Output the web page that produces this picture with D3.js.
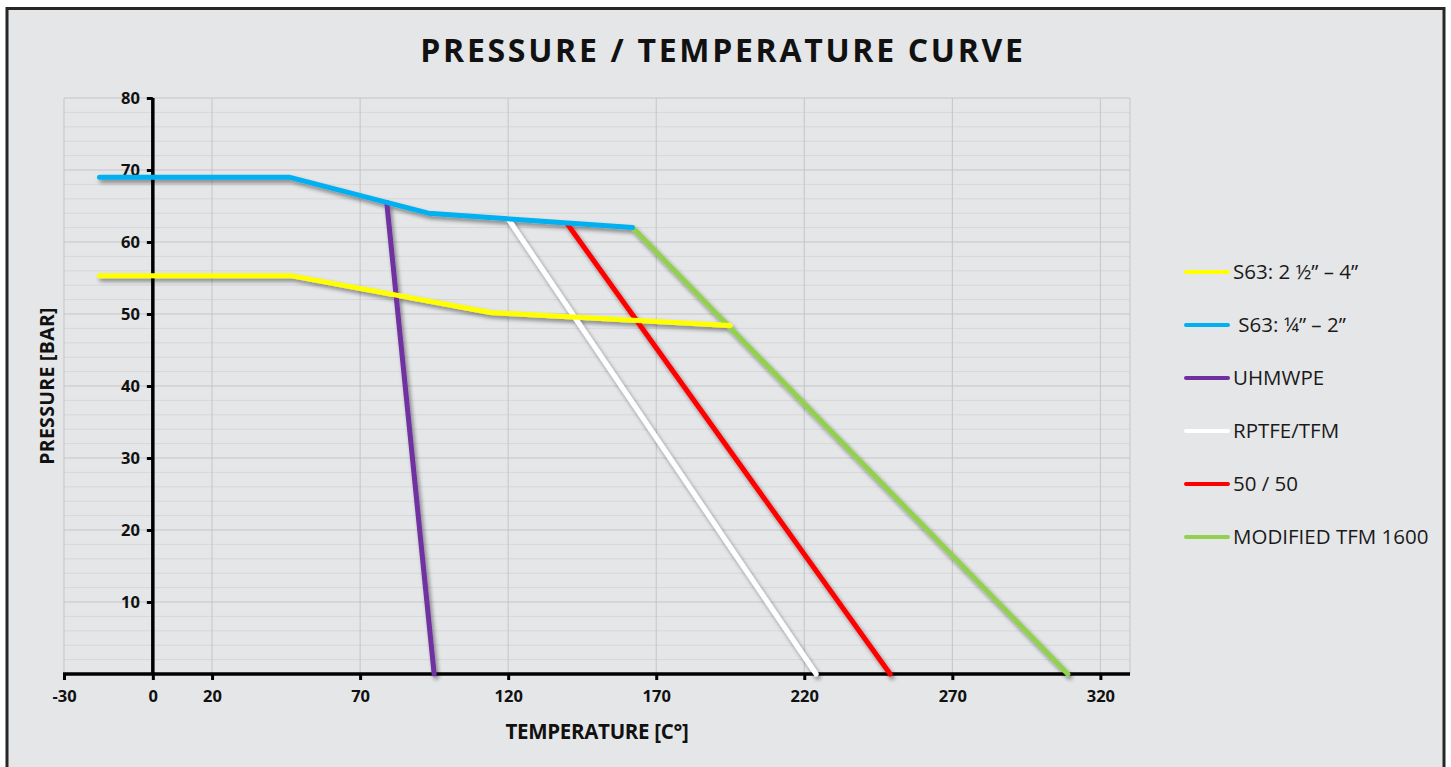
<!DOCTYPE html>
<html>
<head>
<meta charset="utf-8">
<script src="https://cdn.jsdelivr.net/npm/d3@7"></script>
<style>
html,body{margin:0;padding:0;background:#fff;}
svg{display:block;}
</style>
</head>
<body>
<svg id="chart" width="1451" height="767"></svg>
<script>
// ---- data ----
const seriesNames = ["S63: 2 \u00BD\u201D \u2013 4\u201D", " S63: \u00BC\u201D \u2013 2\u201D", "UHMWPE", "RPTFE/TFM", "50 / 50", "MODIFIED TFM 1600"];
const seriesColors = ["#ffff00", "#00b0f0", "#7030a0", "#ffffff", "#ff0000", "#92d050"];
const s63LargeTemp = [-18, 47, 114, 195];
const s63LargePres = [55.3, 55.3, 50.2, 48.4];
const s63SmallTemp = [-18, 46, 93, 162];
const s63SmallPres = [69, 69, 64, 62];
const uhmwpeTemp = [79, 95];
const uhmwpePres = [65.5, 0];
const rptfeTemp = [120, 224];
const rptfePres = [63.2, 0];
const fiftyTemp = [140, 249];
const fiftyPres = [62.5, 0];
const tfm1600Temp = [162, 309];
const tfm1600Pres = [62, 0];
const xTicks = [-30, 0, 20, 70, 120, 170, 220, 270, 320];
const yTicks = [10, 20, 30, 40, 50, 60, 70, 80];
const yMinorTicks = d3.range(2, 80, 2);

const seriesTemps = [s63LargeTemp, s63SmallTemp, uhmwpeTemp, rptfeTemp, fiftyTemp, tfm1600Temp];
const seriesPres = [s63LargePres, s63SmallPres, uhmwpePres, rptfePres, fiftyPres, tfm1600Pres];
const drawOrder = [2, 3, 4, 5, 0, 1];

// ---- layout ----
const svg = d3.select("#chart");
const W = 1451, H = 767;
const plot = {left: 64, right: 1130, top: 98, bottom: 674};

svg.append("rect").attr("x", 0).attr("y", 0).attr("width", W).attr("height", H).attr("fill", "#ffffff");
svg.append("rect").attr("x", 7).attr("y", 8.5).attr("width", 1437).attr("height", 770)
  .attr("fill", "#e5e6e8").attr("stroke", "#262626").attr("stroke-width", 3);

const defs = svg.append("defs");
const f = defs.append("filter").attr("id", "shadow").attr("x", "-10%").attr("y", "-10%").attr("width", "130%").attr("height", "130%");
f.append("feGaussianBlur").attr("in", "SourceAlpha").attr("stdDeviation", 2.2).attr("result", "b");
f.append("feOffset").attr("in", "b").attr("dx", 2).attr("dy", 3).attr("result", "o");
f.append("feComponentTransfer").attr("in", "o").attr("result", "o2")
  .append("feFuncA").attr("type", "linear").attr("slope", 0.45);
const m = f.append("feMerge");
m.append("feMergeNode").attr("in", "o2");
m.append("feMergeNode").attr("in", "SourceGraphic");

const x = d3.scaleLinear().domain([-30, 330]).range([plot.left, plot.right]);
const y = d3.scaleLinear().domain([0, 80]).range([plot.bottom, plot.top]);

// gridlines
const g = svg.append("g");
g.selectAll("line.minor").data(yMinorTicks.filter(v => v % 10 !== 0)).enter().append("line")
  .attr("x1", plot.left).attr("x2", plot.right).attr("y1", d => y(d)).attr("y2", d => y(d))
  .attr("stroke", "#d6d7d9").attr("stroke-width", 1);
g.selectAll("line.major").data(yTicks).enter().append("line")
  .attr("x1", plot.left).attr("x2", plot.right).attr("y1", d => y(d)).attr("y2", d => y(d))
  .attr("stroke", "#c4c5c7").attr("stroke-width", 1);
g.selectAll("line.vmaj").data(xTicks.concat([330])).enter().append("line")
  .attr("x1", d => x(d)).attr("x2", d => x(d)).attr("y1", plot.top).attr("y2", plot.bottom)
  .attr("stroke", "#c4c5c7").attr("stroke-width", 1);

// axes
const fontTick = "'Open Sans', sans-serif";
const fmt = d => String(d);
const xAxis = d3.axisBottom(x).tickValues(xTicks).tickSize(6).tickSizeOuter(0).tickPadding(10).tickFormat(fmt);
const xg = svg.append("g").attr("transform", `translate(0,${y(0)})`).call(xAxis);
xg.select(".domain").attr("stroke", "#000").attr("stroke-width", 3.5).attr("d", `M${plot.left - 1},0H${plot.right}`);
xg.selectAll(".tick line").attr("stroke", "#000").attr("stroke-width", 3);
xg.selectAll(".tick text").attr("font-family", fontTick).attr("font-weight", "bold").attr("font-size", 16.5).attr("fill", "#111");

const yAxis = d3.axisLeft(y).tickValues(yTicks).tickSize(6).tickSizeOuter(0).tickPadding(7).tickFormat(fmt);
const yg = svg.append("g").attr("transform", `translate(${x(0)},0)`).call(yAxis);
yg.select(".domain").attr("stroke", "#000").attr("stroke-width", 3.5).attr("d", `M0,${plot.bottom}V${plot.top}`);
yg.selectAll(".tick line").attr("stroke", "#000").attr("stroke-width", 3);
yg.selectAll(".tick text").attr("font-family", fontTick).attr("font-weight", "bold").attr("font-size", 16.5).attr("fill", "#111");

// series
const line = d3.line().x(d => x(d[0])).y(d => y(d[1]));
const lg = svg.append("g").attr("filter", "url(#shadow)");
drawOrder.forEach(i => {
  const pts = seriesTemps[i].map((t, k) => [t, seriesPres[i][k]]);
  lg.append("path").datum(pts).attr("d", line).attr("fill", "none")
    .attr("stroke", seriesColors[i]).attr("stroke-width", 5)
    .attr("stroke-linecap", "round").attr("stroke-linejoin", "round");
});

// title
svg.append("text").attr("x", 723).attr("y", 62).attr("text-anchor", "middle")
  .attr("font-family", "'Open Sans', sans-serif").attr("font-weight", "bold").attr("font-size", 32)
  .attr("letter-spacing", 2.7).attr("fill", "#111").text("PRESSURE / TEMPERATURE CURVE");

// axis titles
svg.append("text").attr("x", 597).attr("y", 739).attr("text-anchor", "middle")
  .attr("font-family", "'Open Sans', sans-serif").attr("font-weight", "bold").attr("font-size", 20.5)
  .attr("letter-spacing", -0.3).attr("fill", "#111").text("TEMPERATURE [C\u00B0]");
svg.append("text").attr("transform", "translate(54,386) rotate(-90)").attr("text-anchor", "middle")
  .attr("font-family", "'Open Sans', sans-serif").attr("font-weight", "bold").attr("font-size", 19.5)
  .attr("letter-spacing", 0.3).attr("fill", "#111").text("PRESSURE [BAR]");

// legend
const legY0 = 272, legStep = 53;
const leg = svg.append("g");
seriesNames.forEach((name, i) => {
  const yy = legY0 + i * legStep;
  leg.append("line").attr("x1", 1186).attr("x2", 1228).attr("y1", yy).attr("y2", yy)
    .attr("stroke", seriesColors[i]).attr("stroke-width", 4).attr("stroke-linecap", "round");
  leg.append("text").attr("x", 1233).attr("y", yy + 7)
    .attr("font-family", "'Open Sans', sans-serif").attr("font-size", 20.5).attr("fill", "#1a1a1a")
    .attr("xml:space", "preserve").style("white-space", "pre").text(name);
});
</script>
</body>
</html>
